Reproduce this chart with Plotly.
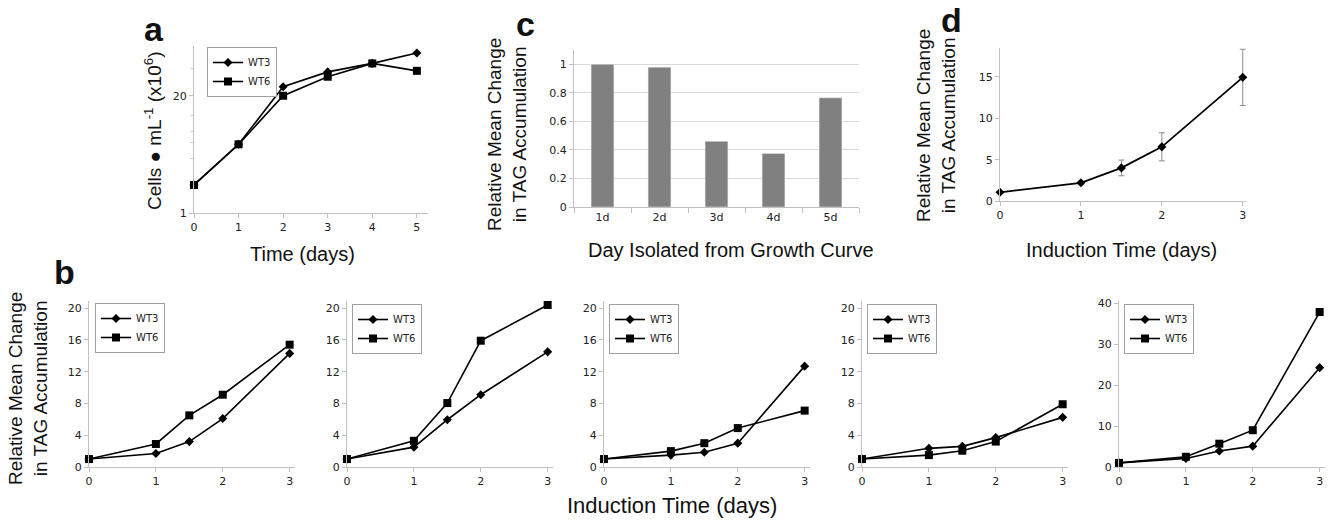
import plotly.graph_objects as go

W, H = 1329, 526

# ---------------- data ----------------
# panel a: growth curve (cells/mL x10^6, log scale)
a_days = [0, 1, 2, 3, 4, 5]
a_wt3 = [2.05, 5.8, 25.3, 37, 46, 60]
a_wt6 = [2.05, 5.8, 20.1, 32.7, 46, 38]

# panel c: relative mean change by day isolated
c_days = ["1d", "2d", "3d", "4d", "5d"]
c_vals = [1.0, 0.98, 0.46, 0.375, 0.765]

# panel d: mean with error bars
d_time = [0, 1, 1.5, 2, 3]
d_mean = [1.05, 2.2, 4.0, 6.55, 14.95]
d_err = [0.0, 0.15, 0.95, 1.7, 3.4]

# panel b: five experiments, WT3 and WT6
b_time = [0, 1, 1.5, 2, 3]
b_wt3 = [
    [1.0, 1.7, 3.2, 6.1, 14.3],
    [1.0, 2.5, 5.95, 9.1, 14.5],
    [1.0, 1.5, 1.85, 3.0, 12.7],
    [1.0, 2.35, 2.6, 3.7, 6.25],
    [1.0, 2.1, 3.9, 5.1, 24.3],
]
b_wt6 = [
    [1.0, 2.9, 6.5, 9.1, 15.4],
    [1.0, 3.3, 8.05, 15.9, 20.4],
    [1.0, 2.0, 3.0, 4.9, 7.1],
    [1.0, 1.5, 2.05, 3.2, 7.9],
    [1.0, 2.5, 5.7, 9.0, 37.9],
]
b_yranges = [[0, 20.9], [0, 20.9], [0, 20.9], [0, 20.9], [0, 40.6]]
b_dticks = [4, 4, 4, 4, 10]

# ---------------- helpers ----------------
def PX(px):
    return px / W

def PY(py):
    return 1 - py / H

TICKFONT = dict(family="DejaVu Sans", size=11, color="#222")
TITLEFONT = "Liberation Sans"
AX = dict(showline=True, linecolor="#c0c0c0", linewidth=1, ticks="outside",
          tickcolor="#c0c0c0", ticklen=4, zeroline=False, showgrid=False,
          tickfont=TICKFONT, fixedrange=True, automargin=False)

fig = go.Figure()

def legend_cfg(x0, y0):
    return dict(x=PX(x0), y=PY(y0), xanchor="left", yanchor="top",
                bordercolor="#a0a0a0", borderwidth=1, bgcolor="white",
                font=dict(family="DejaVu Sans", size=10, color="#222"),
                itemwidth=30, tracegroupgap=0, traceorder="normal")

line_style = dict(color="black", width=1.6)

# panel a
fig.add_trace(go.Scatter(x=a_days, y=a_wt3, mode="lines+markers", name="WT3",
                         line=line_style, marker=dict(symbol="diamond", size=7, color="black"),
                         xaxis="x", yaxis="y", legend="legend", cliponaxis=False))
fig.add_trace(go.Scatter(x=a_days, y=a_wt6, mode="lines+markers", name="WT6",
                         line=line_style, marker=dict(symbol="square", size=8, color="black"),
                         xaxis="x", yaxis="y", legend="legend", cliponaxis=False))

# panel c
fig.add_trace(go.Bar(x=c_days, y=c_vals, marker=dict(color="#808080"), width=0.4,
                     xaxis="x2", yaxis="y2", showlegend=False))

# panel d
fig.add_trace(go.Scatter(x=d_time, y=d_mean, mode="lines+markers",
                         line=dict(color="black", width=1.8),
                         marker=dict(symbol="diamond", size=7, color="black"),
                         error_y=dict(type="data", array=d_err, color="#8c8c8c",
                                      thickness=1, width=3),
                         xaxis="x3", yaxis="y3", showlegend=False, cliponaxis=False))

# panel b
b_x0 = [89, 347, 604, 862, 1119]
b_leg = [(95, 303), (352, 304), (609, 304), (867, 304), (1124, 304)]
for i in range(5):
    xa = "x%d" % (i + 4)
    ya = "y%d" % (i + 4)
    lg = "legend%d" % (i + 2)
    fig.add_trace(go.Scatter(x=b_time, y=b_wt3[i], mode="lines+markers", name="WT3",
                             line=line_style, marker=dict(symbol="diamond", size=7, color="black"),
                             xaxis=xa, yaxis=ya, legend=lg, cliponaxis=False))
    fig.add_trace(go.Scatter(x=b_time, y=b_wt6[i], mode="lines+markers", name="WT6",
                             line=line_style, marker=dict(symbol="square", size=8, color="black"),
                             xaxis=xa, yaxis=ya, legend=lg, cliponaxis=False))

layout = dict(
    width=W, height=H, margin=dict(l=0, r=0, t=0, b=0, autoexpand=False),
    paper_bgcolor="white", plot_bgcolor="white",
    font=dict(family=TITLEFONT, color="#111"),
)

# axes panel a
layout["xaxis"] = dict(AX, domain=[PX(194), PX(428)], range=[0, 5.25],
                       tickvals=[0, 1, 2, 3, 4, 5], anchor="y")
layout["yaxis"] = dict(AX, domain=[PY(213), PY(46)], type="log", range=[0, 1.856],
                       tickvals=[1, 20], ticktext=["1", "20"], anchor="x",
                       minor=dict(tickvals=[4, 6, 8, 12, 40], ticks="outside",
                                  ticklen=3, tickcolor="#d0d0d0"))
layout["legend"] = legend_cfg(207, 47)

# axes panel c
layout["xaxis2"] = dict(AX, domain=[PX(574), PX(859)], type="category",
                        tickson="boundaries", anchor="y2", ticklen=5)
layout["yaxis2"] = dict(AX, domain=[PY(207), PY(50)], range=[0, 1.1],
                        tickvals=[0, 0.2, 0.4, 0.6, 0.8, 1.0],
                        ticktext=["0", "0.2", "0.4", "0.6", "0.8", "1"],
                        showgrid=True, gridcolor="#d9d9d9", anchor="x2")

# axes panel d
layout["xaxis3"] = dict(AX, domain=[PX(1000), PX(1246)], range=[0, 3.04],
                        tickvals=[0, 1, 2, 3], anchor="y3")
layout["yaxis3"] = dict(AX, domain=[PY(201), PY(48)], range=[0, 18.5],
                        tickvals=[0, 5, 10, 15], anchor="x3")

for i in range(5):
    n = i + 4
    layout["xaxis%d" % n] = dict(AX, domain=[PX(b_x0[i]), PX(b_x0[i] + 206)],
                                 range=[0, 3.08], tickvals=[0, 1, 2, 3],
                                 anchor="y%d" % n)
    layout["yaxis%d" % n] = dict(AX, domain=[PY(467), PY(301)], range=b_yranges[i],
                                 dtick=b_dticks[i], tick0=0, anchor="x%d" % n)
    layout["legend%d" % (i + 2)] = legend_cfg(*b_leg[i])

fig.update_layout(**layout)

ann = []
def text(x, y, s, size, angle=0):
    ann.append(dict(x=PX(x), y=PY(y), xref="paper", yref="paper", text=s,
                    showarrow=False, textangle=angle, xanchor="center", yanchor="middle",
                    font=dict(family=TITLEFONT, size=size, color="#111"),
                    align="center"))

# panel letters
text(154, 29, "<b>a</b>", 34)
text(525, 24, "<b>c</b>", 34)
text(951, 20, "<b>d</b>", 34)
text(64, 272, "<b>b</b>", 34)

# titles
text(302, 254, "Time (days)", 20)
text(153, 131, "Cells ● mL<sup>-1</sup> (x10<sup>6</sup>)", 19, angle=-90)
text(731, 250, "Day Isolated from Growth Curve", 20)
text(507, 135, "Relative Mean Change<br>in TAG Accumulation", 19, angle=-90)
text(1121, 250, "Induction Time (days)", 20)
text(936, 126, "Relative Mean Change<br>in TAG Accumulation", 19, angle=-90)
text(672, 505, "Induction Time (days)", 22)
text(28, 389, "Relative Mean Change<br>in TAG Accumulation", 19, angle=-90)

fig.update_layout(annotations=ann)

fig.write_html("out.html", config={"displayModeBar": False, "staticPlot": True},
               post_script="document.body.style.margin='0px';document.body.style.padding='0px';")
